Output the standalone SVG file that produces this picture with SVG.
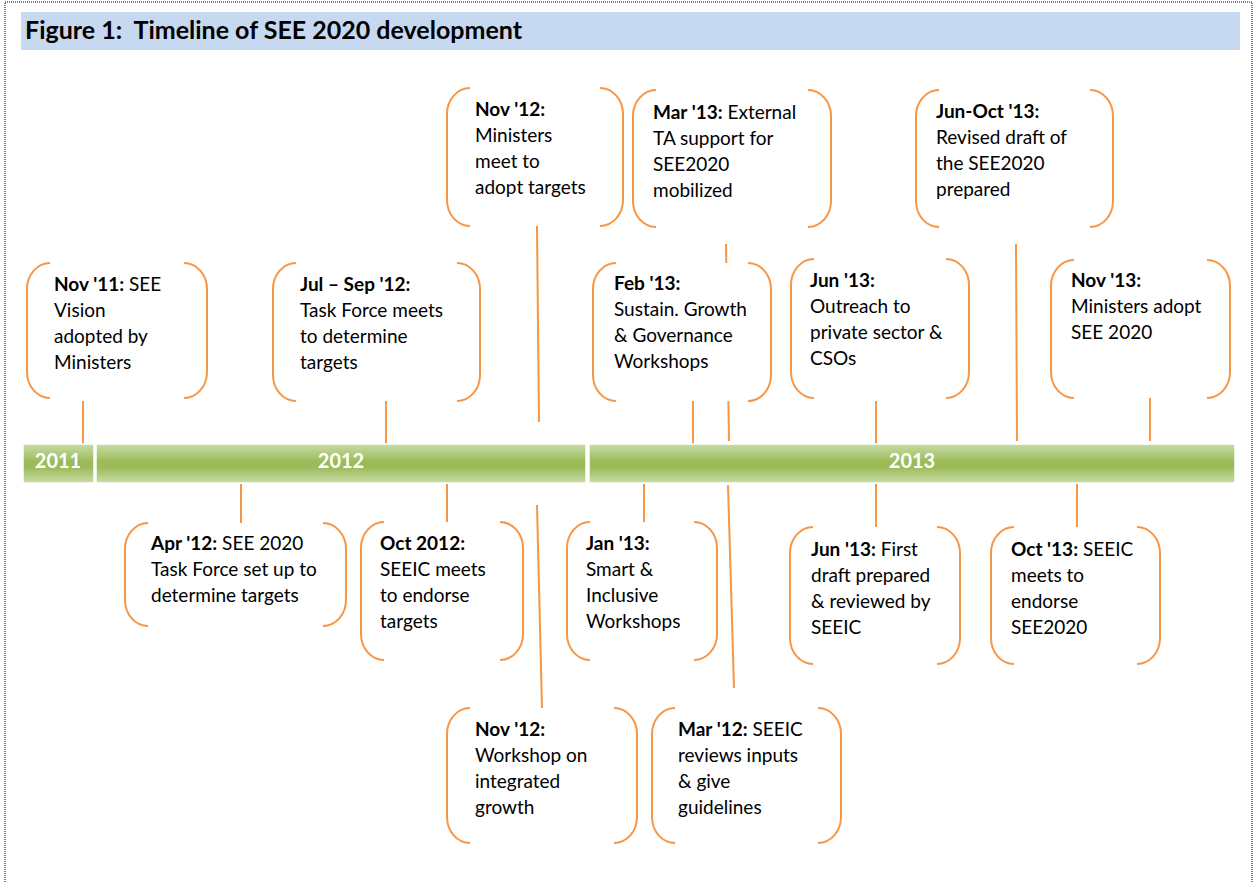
<svg xmlns="http://www.w3.org/2000/svg" width="1255" height="883" viewBox="0 0 1255 883">
<style>
.t{font-family:Lato,"Liberation Sans",sans-serif;font-size:19px;fill:#000}
.b{font-weight:bold}
.yr{font-family:Lato,"Liberation Sans",sans-serif;font-size:20px;font-weight:bold;fill:#fff;text-anchor:middle}
.br{fill:none;stroke:#F79646;stroke-width:2}
.bg{fill:#fff;stroke:none}
.cn{stroke:#F79646;stroke-width:2;fill:none}
.seg{fill:url(#gr);stroke:#fff;stroke-width:1.5}
</style>
<defs>
<linearGradient id="gr" x1="0" y1="0" x2="0" y2="1">
<stop offset="0" stop-color="#C9DCA8"/>
<stop offset="0.45" stop-color="#9BBB59"/>
<stop offset="0.6" stop-color="#9BBB59"/>
<stop offset="1" stop-color="#C9DCA8"/>
</linearGradient>
</defs>
<rect x="0" y="0" width="1255" height="883" fill="#fff"/>
<rect x="5" y="2" width="1247" height="900" fill="none" stroke="#000" stroke-width="1" stroke-dasharray="1 1"/>
<g id="title">
<rect x="21" y="12" width="1219" height="38" fill="#C6D9F1"/>
<text x="25" y="39" class="t b" style="font-size:25px" xml:space="preserve">Figure 1:  Timeline of SEE 2020 development</text>
</g>
<g id="connectors">
<line class="cn" x1="83" y1="401" x2="83" y2="444"/>
<line class="cn" x1="386" y1="401" x2="386" y2="444"/>
<line class="cn" x1="537" y1="226" x2="539" y2="422"/>
<line class="cn" x1="726" y1="244" x2="729" y2="441"/>
<line class="cn" x1="693" y1="401" x2="693" y2="444"/>
<line class="cn" x1="876" y1="401" x2="876" y2="444"/>
<line class="cn" x1="1016" y1="244" x2="1017" y2="441"/>
<line class="cn" x1="1150" y1="398" x2="1150" y2="441"/>
<line class="cn" x1="241" y1="484" x2="241" y2="523"/>
<line class="cn" x1="447" y1="484" x2="447" y2="522"/>
<line class="cn" x1="537" y1="505" x2="542" y2="708"/>
<line class="cn" x1="644" y1="484" x2="644" y2="522"/>
<line class="cn" x1="728" y1="485" x2="734" y2="688"/>
<line class="cn" x1="876" y1="484" x2="876" y2="527"/>
<line class="cn" x1="1077" y1="484" x2="1077" y2="527"/>
</g>
<g id="timeline">
<rect class="seg" x="23" y="444" width="71" height="39"/>
<rect class="seg" x="96" y="444" width="490" height="39"/>
<rect class="seg" x="589" y="444" width="646" height="39"/>
<text class="yr" x="58" y="468">2011</text>
<text class="yr" x="341" y="468">2012</text>
<text class="yr" x="912" y="468">2013</text>
</g>
<g id="n-nov11">
<rect class="bg" x="27" y="263" width="180" height="135" rx="23" ry="26"/>
<path class="br" d="M50,263 A23,26 0 0 0 27,289 V372 A23,26 0 0 0 50,398"/>
<path class="br" d="M184,263 A23,26 0 0 1 207,289 V372 A23,26 0 0 1 184,398"/>
<text class="t" x="54"><tspan y="291"><tspan class="b">Nov '11:</tspan> SEE</tspan><tspan x="54" y="317">Vision</tspan><tspan x="54" y="343">adopted by</tspan><tspan x="54" y="369">Ministers</tspan></text>
</g>
<g id="n-julsep12">
<rect class="bg" x="273" y="263" width="207" height="138" rx="23" ry="26"/>
<path class="br" d="M296,263 A23,26 0 0 0 273,289 V375 A23,26 0 0 0 296,401"/>
<path class="br" d="M457,263 A23,26 0 0 1 480,289 V375 A23,26 0 0 1 457,401"/>
<text class="t" x="300"><tspan y="291" class="b">Jul – Sep '12:</tspan><tspan x="300" y="317">Task Force meets</tspan><tspan x="300" y="343">to determine</tspan><tspan x="300" y="369">targets</tspan></text>
</g>
<g id="n-nov12a">
<rect class="bg" x="447" y="88" width="176" height="138" rx="23" ry="26"/>
<path class="br" d="M470,88 A23,26 0 0 0 447,114 V200 A23,26 0 0 0 470,226"/>
<path class="br" d="M600,88 A23,26 0 0 1 623,114 V200 A23,26 0 0 1 600,226"/>
<text class="t" x="475"><tspan y="116" class="b">Nov '12:</tspan><tspan x="475" y="142">Ministers</tspan><tspan x="475" y="168">meet to</tspan><tspan x="475" y="194">adopt targets</tspan></text>
</g>
<g id="n-mar13">
<rect class="bg" x="633" y="90" width="198" height="137" rx="23" ry="26"/>
<path class="br" d="M656,90 A23,26 0 0 0 633,116 V201 A23,26 0 0 0 656,227"/>
<path class="br" d="M808,90 A23,26 0 0 1 831,116 V201 A23,26 0 0 1 808,227"/>
<text class="t" x="653"><tspan y="119"><tspan class="b">Mar '13:</tspan> External</tspan><tspan x="653" y="145">TA support for</tspan><tspan x="653" y="171">SEE2020</tspan><tspan x="653" y="197">mobilized</tspan></text>
</g>
<g id="n-junoct13">
<rect class="bg" x="916" y="90" width="197" height="137" rx="23" ry="26"/>
<path class="br" d="M939,90 A23,26 0 0 0 916,116 V201 A23,26 0 0 0 939,227"/>
<path class="br" d="M1090,90 A23,26 0 0 1 1113,116 V201 A23,26 0 0 1 1090,227"/>
<text class="t" x="936"><tspan y="118" class="b">Jun-Oct '13:</tspan><tspan x="936" y="144">Revised draft of</tspan><tspan x="936" y="170">the SEE2020</tspan><tspan x="936" y="196">prepared</tspan></text>
</g>
<g id="n-feb13">
<rect class="bg" x="593" y="263" width="178" height="138" rx="23" ry="26"/>
<path class="br" d="M616,263 A23,26 0 0 0 593,289 V375 A23,26 0 0 0 616,401"/>
<path class="br" d="M748,263 A23,26 0 0 1 771,289 V375 A23,26 0 0 1 748,401"/>
<text class="t" x="614"><tspan y="290" class="b">Feb '13:</tspan><tspan x="614" y="316">Sustain. Growth</tspan><tspan x="614" y="342">&amp; Governance</tspan><tspan x="614" y="368">Workshops</tspan></text>
</g>
<g id="n-jun13a">
<rect class="bg" x="791" y="259" width="178" height="139" rx="23" ry="26"/>
<path class="br" d="M814,259 A23,26 0 0 0 791,285 V372 A23,26 0 0 0 814,398"/>
<path class="br" d="M946,259 A23,26 0 0 1 969,285 V372 A23,26 0 0 1 946,398"/>
<text class="t" x="810"><tspan y="287" class="b">Jun '13:</tspan><tspan x="810" y="313">Outreach to</tspan><tspan x="810" y="339">private sector &amp;</tspan><tspan x="810" y="365">CSOs</tspan></text>
</g>
<g id="n-nov13">
<rect class="bg" x="1051" y="260" width="179" height="138" rx="23" ry="26"/>
<path class="br" d="M1074,260 A23,26 0 0 0 1051,286 V372 A23,26 0 0 0 1074,398"/>
<path class="br" d="M1207,260 A23,26 0 0 1 1230,286 V372 A23,26 0 0 1 1207,398"/>
<text class="t" x="1071"><tspan y="287" class="b">Nov '13:</tspan><tspan x="1071" y="313">Ministers adopt</tspan><tspan x="1071" y="339">SEE 2020</tspan></text>
</g>
<g id="n-apr12">
<rect class="bg" x="125" y="523" width="221" height="103" rx="23" ry="26"/>
<path class="br" d="M148,523 A23,26 0 0 0 125,549 V600 A23,26 0 0 0 148,626"/>
<path class="br" d="M323,523 A23,26 0 0 1 346,549 V600 A23,26 0 0 1 323,626"/>
<text class="t" x="151"><tspan y="550"><tspan class="b">Apr '12:</tspan> SEE 2020</tspan><tspan x="151" y="576">Task Force set up to</tspan><tspan x="151" y="602">determine targets</tspan></text>
</g>
<g id="n-oct12">
<rect class="bg" x="361" y="522" width="162" height="138" rx="23" ry="26"/>
<path class="br" d="M384,522 A23,26 0 0 0 361,548 V634 A23,26 0 0 0 384,660"/>
<path class="br" d="M500,522 A23,26 0 0 1 523,548 V634 A23,26 0 0 1 500,660"/>
<text class="t" x="380"><tspan y="550" class="b">Oct 2012:</tspan><tspan x="380" y="576">SEEIC meets</tspan><tspan x="380" y="602">to endorse</tspan><tspan x="380" y="628">targets</tspan></text>
</g>
<g id="n-jan13">
<rect class="bg" x="567" y="522" width="150" height="138" rx="23" ry="26"/>
<path class="br" d="M590,522 A23,26 0 0 0 567,548 V634 A23,26 0 0 0 590,660"/>
<path class="br" d="M694,522 A23,26 0 0 1 717,548 V634 A23,26 0 0 1 694,660"/>
<text class="t" x="586"><tspan y="550" class="b">Jan '13:</tspan><tspan x="586" y="576">Smart &amp;</tspan><tspan x="586" y="602">Inclusive</tspan><tspan x="586" y="628">Workshops</tspan></text>
</g>
<g id="n-jun13b">
<rect class="bg" x="790" y="527" width="170" height="137" rx="23" ry="26"/>
<path class="br" d="M813,527 A23,26 0 0 0 790,553 V638 A23,26 0 0 0 813,664"/>
<path class="br" d="M937,527 A23,26 0 0 1 960,553 V638 A23,26 0 0 1 937,664"/>
<text class="t" x="811"><tspan y="556"><tspan class="b">Jun '13:</tspan> First</tspan><tspan x="811" y="582">draft prepared</tspan><tspan x="811" y="608">&amp; reviewed by</tspan><tspan x="811" y="634">SEEIC</tspan></text>
</g>
<g id="n-oct13">
<rect class="bg" x="991" y="527" width="169" height="137" rx="23" ry="26"/>
<path class="br" d="M1014,527 A23,26 0 0 0 991,553 V638 A23,26 0 0 0 1014,664"/>
<path class="br" d="M1137,527 A23,26 0 0 1 1160,553 V638 A23,26 0 0 1 1137,664"/>
<text class="t" x="1011"><tspan y="556"><tspan class="b">Oct '13:</tspan> SEEIC</tspan><tspan x="1011" y="582">meets to</tspan><tspan x="1011" y="608">endorse</tspan><tspan x="1011" y="634">SEE2020</tspan></text>
</g>
<g id="n-nov12b">
<rect class="bg" x="447" y="708" width="190" height="135" rx="23" ry="26"/>
<path class="br" d="M470,708 A23,26 0 0 0 447,734 V817 A23,26 0 0 0 470,843"/>
<path class="br" d="M614,708 A23,26 0 0 1 637,734 V817 A23,26 0 0 1 614,843"/>
<text class="t" x="475"><tspan y="736" class="b">Nov '12:</tspan><tspan x="475" y="762">Workshop on</tspan><tspan x="475" y="788">integrated</tspan><tspan x="475" y="814">growth</tspan></text>
</g>
<g id="n-mar12">
<rect class="bg" x="652" y="708" width="189" height="135" rx="23" ry="26"/>
<path class="br" d="M675,708 A23,26 0 0 0 652,734 V817 A23,26 0 0 0 675,843"/>
<path class="br" d="M818,708 A23,26 0 0 1 841,734 V817 A23,26 0 0 1 818,843"/>
<text class="t" x="678"><tspan y="736"><tspan class="b">Mar '12:</tspan> SEEIC</tspan><tspan x="678" y="762">reviews inputs</tspan><tspan x="678" y="788">&amp; give</tspan><tspan x="678" y="814">guidelines</tspan></text>
</g>
</svg>
